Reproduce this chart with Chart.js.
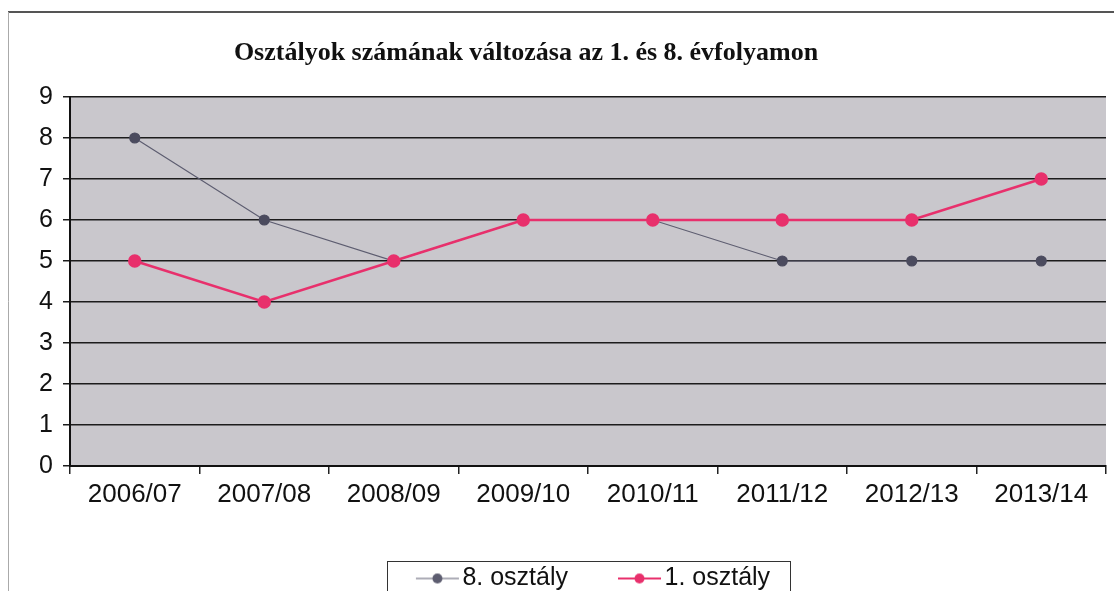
<!DOCTYPE html>
<html>
<head>
<meta charset="utf-8">
<script src="https://cdn.jsdelivr.net/npm/chart.js@4"></script>
<style>
  html, body { margin: 0; padding: 0; background: #fff; }
  #wrap { width: 1114px; height: 591px; }
</style>
</head>
<body>
<div id="wrap"><canvas id="chart" width="1114" height="591"></canvas></div>
<script>
const chartTitle = "Osztályok számának változása az 1. és 8. évfolyamon";
const years = ["2006/07", "2007/08", "2008/09", "2009/10", "2010/11", "2011/12", "2012/13", "2013/14"];
const osztaly8 = [8, 6, 5, 6, 6, 5, 5, 5];
const osztaly1 = [5, 4, 5, 6, 6, 6, 6, 7];
const seriesNames = ["8. osztály", "1. osztály"];

const grayCol = "#4b4b5e";
const pinkCol = "#e8306c";

// little line + dot image for the legend
function legendMark(color, lineW) {
    const c = document.createElement("canvas");
    c.width = 64; c.height = 14;
    const g = c.getContext("2d");
    g.strokeStyle = color;
    g.lineWidth = lineW;
    g.beginPath();
    g.moveTo(20, 7); g.lineTo(63, 7);
    g.stroke();
    g.fillStyle = color;
    g.beginPath();
    g.arc(41.5, 7, 5, 0, Math.PI * 2);
    g.fill();
    return c;
}
const marks = [legendMark("#5d5d70", 1.2), legendMark(pinkCol, 2)];

const decor = {
    id: "decor",
    beforeDraw(chart) {
        const ctx = chart.ctx, a = chart.chartArea;
        ctx.save();
        ctx.fillStyle = "#fff";
        ctx.fillRect(0, 0, chart.width, chart.height);
        // outer frame
        ctx.strokeStyle = "#555";
        ctx.lineWidth = 2;
        ctx.beginPath();
        ctx.moveTo(8, 12); ctx.lineTo(chart.width, 12);
        ctx.stroke();
        ctx.strokeStyle = "#aaa";
        ctx.lineWidth = 1;
        ctx.beginPath();
        ctx.moveTo(8.5, 12); ctx.lineTo(8.5, chart.height);
        ctx.stroke();
        // plot area
        ctx.fillStyle = "#c9c7cc";
        ctx.fillRect(a.left, a.top, a.right - a.left, a.bottom - a.top);
        ctx.restore();
    },
    afterDraw(chart) {
        const ctx = chart.ctx;
        ctx.save();
        ctx.fillStyle = "#111";
        ctx.font = 'bold 26px "Liberation Serif", "Times New Roman", serif';
        ctx.textAlign = "center";
        ctx.textBaseline = "middle";
        ctx.fillText(chartTitle, 526, 53);
        // legend border
        const lg = chart.legend, hb = lg.legendHitBoxes;
        if (hb && hb.length) {
            const l = hb[0].left - 19;
            const r = hb[hb.length - 1].left + hb[hb.length - 1].width + 20;
            ctx.strokeStyle = "#333";
            ctx.lineWidth = 1;
            ctx.strokeRect(Math.round(l) + 0.5, 561.5, Math.round(r - l), 60);
        }
        ctx.restore();
    }
};

new Chart(document.getElementById("chart"), {
    type: "line",
    data: {
        labels: years,
        datasets: [{
            label: seriesNames[0],
            data: osztaly8,
            borderColor: "#5d5d70",
            borderWidth: 1.2,
            backgroundColor: grayCol,
            pointBackgroundColor: grayCol,
            pointBorderColor: grayCol,
            pointRadius: 5,
            order: 1
        }, {
            label: seriesNames[1],
            data: osztaly1,
            borderColor: pinkCol,
            borderWidth: 2.5,
            backgroundColor: pinkCol,
            pointBackgroundColor: pinkCol,
            pointBorderColor: pinkCol,
            pointRadius: 5.5,
            order: 0
        }]
    },
    options: {
        responsive: false,
        animation: false,
        devicePixelRatio: 1,
        elements: { point: { pointStyle: "circle" }, line: { tension: 0 } },
        layout: { padding: { top: 97, right: 8, left: 0, bottom: 0 } },
        scales: {
            x: {
                offset: true,
                grid: { offset: true, drawOnChartArea: false, drawTicks: true, tickLength: 8, color: "#222", lineWidth: 1.5 },
                border: { display: true, color: "#111", width: 2 },
                ticks: { color: "#111", padding: 5, font: { family: "Liberation Sans, Arial", size: 26 }, maxRotation: 0, autoSkip: false },
                afterFit(s) { s.height = 60; }
            },
            y: {
                min: 0, max: 9,
                ticks: { stepSize: 1, color: "#111", padding: 10, font: { family: "Liberation Sans, Arial", size: 25 } },
                grid: { color: "#1c1c1c", lineWidth: 1.5, drawTicks: true, tickLength: 7 },
                border: { display: true, color: "#111", width: 2 },
                afterFit(s) { s.width = 70; }
            }
        },
        plugins: {
            title: { display: false },
            tooltip: { enabled: false },
            legend: {
                position: "bottom",
                fullSize: false,
                maxHeight: 65,
                labels: {
                    usePointStyle: true,
                    pointStyleWidth: 44,
                    padding: 40,
                    color: "#111",
                    font: { family: "Liberation Sans, Arial", size: 25 },
                    sort: (a, b) => a.datasetIndex - b.datasetIndex,
                    generateLabels(chart) {
                        const items = Chart.defaults.plugins.legend.labels.generateLabels(chart);
                        items.forEach(it => { it.pointStyle = marks[it.datasetIndex]; });
                        return items;
                    }
                }
            }
        }
    },
    plugins: [decor]
});
</script>
</body>
</html>
